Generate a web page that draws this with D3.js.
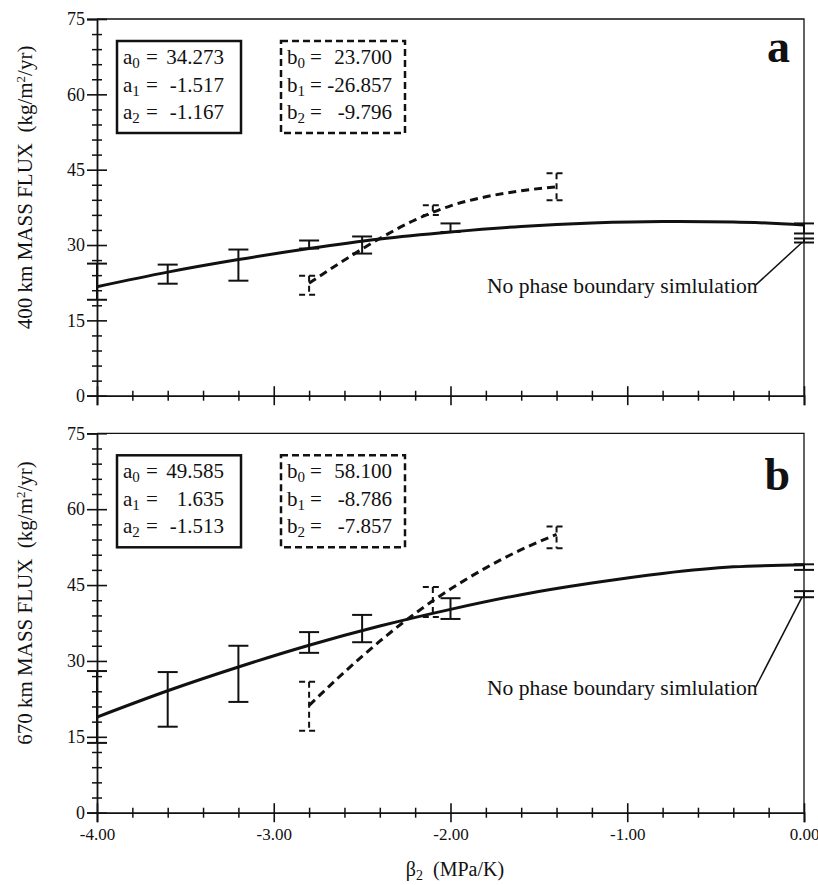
<!DOCTYPE html>
<html><head><meta charset="utf-8">
<script src="https://cdn.jsdelivr.net/npm/d3@7"></script>
<style>
body{margin:0;background:#fff}
svg{display:block}
text{font-family:"Liberation Serif","Times New Roman",serif;fill:#111;white-space:pre}
</style>
</head><body>
<svg id="chart" width="818" height="885"></svg>
<script>
// ---------- data ----------
const xTickValues = [-4, -3, -2, -1, 0];
const xTickLabels = ["-4.00", "-3.00", "-2.00", "-1.00", "0.00"];
const yTickValues = [0, 15, 30, 45, 60, 75];

const curveX  = [-4, -3.6, -3.2, -2.8, -2.4, -2.0, -1.6, -1.2, -0.8, -0.4, 0];
const fit400  = [21.7, 24.6, 27.1, 29.3, 31.2, 32.6, 33.7, 34.4, 34.7, 34.6, 34.0];
const fit670  = [18.9, 24.1, 28.8, 33.1, 36.9, 40.2, 43.1, 45.4, 47.3, 48.6, 49.0];

const dashX   = [-2.8, -2.6, -2.4, -2.2, -2.0, -1.8, -1.6, -1.4];
const dash400 = [22.4, 27.0, 31.3, 35.0, 37.8, 39.6, 40.8, 41.6];
const dash670 = [21.2, 27.8, 33.9, 39.4, 44.2, 48.4, 52.0, 55.0];

const barX     = [-4, -3.6, -3.2, -2.8, -2.5, -2.0, 0];
const bar400Lo = [19.1, 22.3, 22.9, 29.3, 28.3, 32.6, 32.3];
const bar400Hi = [26.3, 26.1, 29.1, 30.9, 31.7, 34.3, 34.3];
const bar670Lo = [13.8, 17.0, 21.9, 31.6, 33.7, 38.3, 48.0];
const bar670Hi = [28.0, 27.8, 33.0, 35.7, 39.1, 42.4, 49.1];

const dashBarX     = [-2.8, -2.1, -1.4];
const dashBar400Lo = [20.1, 36.0, 38.9];
const dashBar400Hi = [23.9, 37.9, 44.3];
const dashBar670Lo = [16.2, 38.7, 52.3];
const dashBar670Hi = [25.9, 44.6, 56.6];

const noPhaseX   = 0;
const noPhase400 = [30.5, 31.3];
const noPhase670 = [42.6, 43.8];
const noPhaseText = "No phase boundary simlulation";

const coefA400 = ["34.273", "-1.517", "-1.167"];
const coefB400 = ["23.700", "-26.857", "-9.796"];
const coefA670 = ["49.585", "1.635", "-1.513"];
const coefB670 = ["58.100", "-8.786", "-7.857"];

const yTitle400 = "400 km MASS FLUX  (kg/m";
const yTitle670 = "670 km MASS FLUX  (kg/m";
const xTitle = "(MPa/K)";

// ---------- layout ----------
const svg = d3.select("#chart");
const X0 = 97, X1 = 804;
const x = d3.scaleLinear().domain([-4, 0]).range([X0, X1]);
const serif = '"Liberation Serif","Times New Roman",serif';

const panels = [
  {top: 19, bottom: 395.7, letter: "a", letterBase: 62, title: yTitle400,
   fit: fit400, dash: dash400, barLo: bar400Lo, barHi: bar400Hi,
   dLo: dashBar400Lo, dHi: dashBar400Hi, np: noPhase400,
   coefA: coefA400, coefB: coefB400, textBase: 293, labels: false},
  {top: 433.3, bottom: 812.7, letter: "b", letterBase: 490, title: yTitle670,
   fit: fit670, dash: dash670, barLo: bar670Lo, barHi: bar670Hi,
   dLo: dashBar670Lo, dHi: dashBar670Hi, np: noPhase670,
   coefA: coefA670, coefB: coefB670, textBase: 695, labels: true}
];

const line = (ys) => d3.line().x(d => x(d[0])).y(d => ys(d[1])).curve(d3.curveMonotoneX);

function errBar(g, xv, lo, hi, y, dashed) {
  const cx = x(xv), w = 10;
  const gg = g.append("g").attr("stroke", "#111").attr("stroke-width", 2).attr("fill", "none");
  if (dashed) gg.attr("stroke-dasharray", "6,4");
  gg.append("line").attr("x1", cx).attr("x2", cx).attr("y1", y(hi)).attr("y2", y(lo));
  gg.append("line").attr("x1", cx - w).attr("x2", cx + w).attr("y1", y(hi)).attr("y2", y(hi));
  gg.append("line").attr("x1", cx - w).attr("x2", cx + w).attr("y1", y(lo)).attr("y2", y(lo));
}

panels.forEach(p => {
  const y = d3.scaleLinear().domain([0, 75]).range([p.bottom, p.top]);
  const g = svg.append("g");

  // frame (top + right)
  g.append("path")
    .attr("d", `M${X0},${p.top}H${X1}V${p.bottom}`)
    .attr("fill", "none").attr("stroke", "#111").attr("stroke-width", 1.3);

  // y axis major
  const yAx = g.append("g").attr("transform", `translate(${X0},0)`)
    .call(d3.axisLeft(y).tickValues(yTickValues).tickSize(10).tickPadding(4).tickFormat(d3.format("d")));
  yAx.attr("font-family", serif);
  yAx.select(".domain").attr("stroke", "#111").attr("stroke-width", 1.8);
  yAx.selectAll(".tick line").attr("x1", -10).attr("x2", 10).attr("stroke", "#111").attr("stroke-width", 1.6);
  yAx.selectAll(".tick text").attr("x", -12).style("font-size", "18px")
    .style("font-family", serif).attr("fill", "#111");
  // y axis minor
  const yMin = g.append("g").attr("transform", `translate(${X0},0)`)
    .call(d3.axisLeft(y).tickValues(d3.range(0, 76, 3).filter(v => v % 15 !== 0)).tickSize(5).tickFormat(""));
  yMin.select(".domain").remove();
  yMin.selectAll(".tick line").attr("x1", -5).attr("x2", 5).attr("stroke", "#111").attr("stroke-width", 1.5);

  // x axis major
  const xAx = g.append("g").attr("transform", `translate(0,${p.bottom})`)
    .call(d3.axisBottom(x).tickValues(xTickValues).tickSize(9.5).tickPadding(6)
      .tickFormat((d, i) => p.labels ? xTickLabels[i] : ""));
  xAx.attr("font-family", serif);
  xAx.select(".domain").attr("stroke", "#111").attr("stroke-width", 1.8);
  xAx.selectAll(".tick line").attr("y1", -9.5).attr("y2", 9.5).attr("stroke", "#111").attr("stroke-width", 1.6);
  xAx.selectAll(".tick text").style("font-size", "17px")
    .style("font-family", serif).attr("fill", "#111");
  // x axis minor
  const xMin = g.append("g").attr("transform", `translate(0,${p.bottom})`)
    .call(d3.axisBottom(x).tickValues(d3.range(-4, 0.01, 0.2).filter(v => Math.abs(v - Math.round(v)) > 0.01)).tickSize(5).tickFormat(""));
  xMin.select(".domain").remove();
  xMin.selectAll(".tick line").attr("y1", -5).attr("y2", 5).attr("stroke", "#111").attr("stroke-width", 1.5);

  // y title
  const yt = g.append("text")
    .attr("transform", `translate(32,${(p.top + p.bottom) / 2 - 20}) rotate(-90)`)
    .attr("text-anchor", "middle").style("font-size", "21px");
  yt.append("tspan").text(p.title);
  yt.append("tspan").attr("dy", -7).style("font-size", "13px").text("2");
  yt.append("tspan").attr("dy", 7).text("/yr)");

  // curves
  g.append("path").datum(curveX.map((v, i) => [v, p.fit[i]]))
    .attr("d", line(y)).attr("fill", "none").attr("stroke", "#111").attr("stroke-width", 3);
  g.append("path").datum(dashX.map((v, i) => [v, p.dash[i]]))
    .attr("d", line(y)).attr("fill", "none").attr("stroke", "#111").attr("stroke-width", 3)
    .attr("stroke-dasharray", "8,5");

  // error bars
  barX.forEach((v, i) => errBar(g, v, p.barLo[i], p.barHi[i], y, false));
  dashBarX.forEach((v, i) => errBar(g, v, p.dLo[i], p.dHi[i], y, true));
  errBar(g, noPhaseX, p.np[0], p.np[1], y, false);

  // annotation
  const ann = g.append("text").attr("x", 487).attr("y", p.textBase)
    .style("font-size", "21.6px").text(noPhaseText);
  const bb = ann.node().getBBox();
  g.append("line").attr("x1", bb.x + bb.width - 2).attr("y1", p.textBase - 8)
    .attr("x2", x(noPhaseX) - 2).attr("y2", y(p.np[0]))
    .attr("stroke", "#111").attr("stroke-width", 1.5);

  // coefficient boxes
  const boxTop = p.top + 22, boxH = 92;
  const boxes = [
    {left: 117, w: 124, sym: "a", vals: p.coefA, eqOff: 29, valEnd: 107, dashed: false},
    {left: 281, w: 124, sym: "b", vals: p.coefB, eqOff: 29, valEnd: 111, dashed: true}
  ];
  boxes.forEach(b => {
    g.append("rect").attr("x", b.left).attr("y", boxTop).attr("width", b.w).attr("height", boxH)
      .attr("fill", "none").attr("stroke", "#111").attr("stroke-width", 2.5)
      .attr("stroke-dasharray", b.dashed ? "7,4" : null);
    b.vals.forEach((val, i) => {
      const base = boxTop + 23 + i * 27.5;
      const t = g.append("text").attr("x", b.left + 6).attr("y", base).style("font-size", "21px");
      t.append("tspan").text(b.sym);
      t.append("tspan").attr("dy", 4).style("font-size", "15px").text(String(i));
      g.append("text").attr("x", b.left + b.eqOff).attr("y", base).style("font-size", "21px").text("=");
      g.append("text").attr("x", b.left + b.valEnd).attr("y", base).attr("text-anchor", "end")
        .style("font-size", "21px").text(val);
    });
  });

  // panel letter
  g.append("text").attr("x", 790).attr("y", p.letterBase).attr("text-anchor", "end")
    .style("font-size", "46px").style("font-weight", "bold").text(p.letter);
});

// x title
const xt = svg.append("text").attr("x", 455).attr("y", 876).attr("text-anchor", "middle").style("font-size", "20px");
xt.append("tspan").text("β");
xt.append("tspan").attr("dy", 4).style("font-size", "14px").text("2");
xt.append("tspan").attr("dy", -4).text("  " + xTitle);
</script>
</body></html>
